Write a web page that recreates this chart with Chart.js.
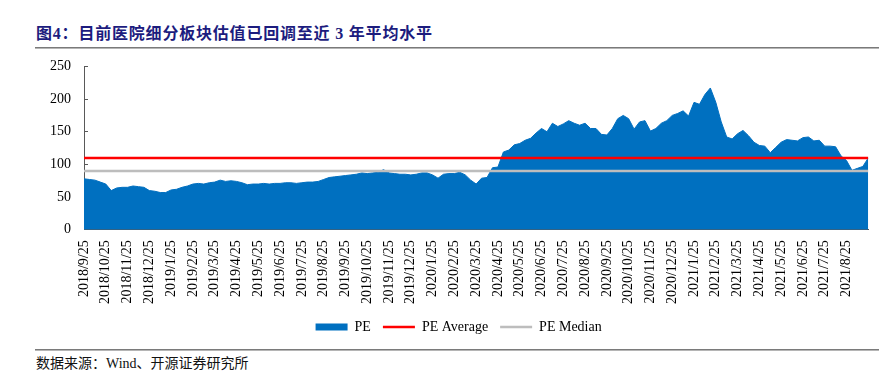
<!DOCTYPE html>
<html><head><meta charset="utf-8">
<script src="https://cdn.jsdelivr.net/npm/chart.js@4"></script>
<style>
html,body{margin:0;padding:0;background:#fff;}
body{width:885px;height:381px;position:relative;overflow:hidden;}
#title{position:absolute;left:36px;top:24px;font:bold 16px "Liberation Serif","Noto Sans CJK SC",serif;letter-spacing:0.8px;color:#1c1c7e;line-height:20px;white-space:nowrap;}
.rule{position:absolute;left:35px;width:844px;height:2px;background:linear-gradient(#7a7a7a 50%,#b5b5b5 50%);}
#src{position:absolute;left:36px;top:355px;font:14px "Liberation Serif","Noto Sans CJK SC",serif;color:#111;line-height:18px;white-space:nowrap;}
#wrap{position:absolute;left:0;top:41.3px;width:885px;height:303px;}
canvas{display:block;}
</style></head>
<body>
<div id="title">图4：目前医院细分板块估值已回调至近 3 年平均水平</div>
<div class="rule" style="top:47px"></div>
<div id="wrap"><canvas id="c" width="885" height="303"></canvas></div>
<div class="rule" style="top:349px"></div>
<div id="src">数据来源：Wind、开源证券研究所</div>
<script>
const tickLabels = [
  '2018/9/25','2018/10/25','2018/11/25','2018/12/25',
  '2019/1/25','2019/2/25','2019/3/25','2019/4/25','2019/5/25','2019/6/25',
  '2019/7/25','2019/8/25','2019/9/25','2019/10/25','2019/11/25','2019/12/25',
  '2020/1/25','2020/2/25','2020/3/25','2020/4/25','2020/5/25','2020/6/25',
  '2020/7/25','2020/8/25','2020/9/25','2020/10/25','2020/11/25','2020/12/25',
  '2021/1/25','2021/2/25','2021/3/25','2021/4/25','2021/5/25','2021/6/25',
  '2021/7/25','2021/8/25'
];
// PE sampled every quarter month starting 2018/9/25
const pe = [
  78,77,76,73,70,60,64,65,65,67,66,65,60,59,57,57,61,62,65,67,70,71,70,72,73,76,74,75,74,72,69,70,70,71,70,71,71,
  72,72,71,72,73,73,74,77,80,81,82,83,84,85,87,86,87,88,92,87,86,85,85,84,85,87,87,84,79,85,86,86,88,84,76,70,
  79,80,95,96,119,122,130,132,137,140,148,155,150,163,158,162,167,163,160,163,155,155,
  146,145,155,170,175,170,154,165,167,151,155,163,167,175,178,182,174,195,192,207,217,195,165,142,139,147,152,144,
  134,129,128,118,126,134,138,137,136,141,142,136,137,128,128,127,113,106,91,94,97,110
];
const peAverage = 110;
const peMedian = 90;
const seriesNames = ['PE', 'PE Average', 'PE Median'];
const seriesColors = ['#0070C0', '#FF0000', '#BDBDBD'];

const stepMonths = 0.25;
const xMax = (pe.length - 1) * stepMonths;
const pePoints = pe.map((v, i) => ({x: i * stepMonths, y: v}));
const avgPoints = [{x: 0, y: peAverage}, {x: xMax, y: peAverage}];
const medPoints = [{x: 0, y: peMedian}, {x: xMax, y: peMedian}];

const FONT = '"Liberation Serif", "Times New Roman", serif';
Chart.defaults.font.family = FONT;

new Chart(document.getElementById('c'), {
  type: 'line',
  data: {
    datasets: [
      {label: seriesNames[0], data: pePoints, fill: 'origin', backgroundColor: seriesColors[0],
       borderColor: seriesColors[0], borderWidth: 1, pointRadius: 0, tension: 0, order: 3},
      {label: seriesNames[1], data: avgPoints, fill: false, borderColor: seriesColors[1],
       borderWidth: 2.5, pointRadius: 0, order: 1},
      {label: seriesNames[2], data: medPoints, fill: false, borderColor: seriesColors[2],
       borderWidth: 2.5, pointRadius: 0, order: 2}
    ]
  },
  options: {
    responsive: false,
    animation: false,
    events: [],
    layout: {padding: {left: 49, right: 16.7, top: 5, bottom: 0}},
    scales: {
      x: {
        type: 'linear', min: 0, max: xMax,
        afterBuildTicks: axis => { axis.ticks = tickLabels.map((_, i) => ({value: i})); },
        afterFit: s => { s.height = 78.2; },
        ticks: {autoSkip: false, minRotation: 90, maxRotation: 90, padding: 14.5,
          color: '#000', font: {size: 14, family: FONT},
          callback: (v, i) => tickLabels[i]},
        grid: {drawOnChartArea: false, tickLength: -4, color: '#595959'},
        border: {color: '#595959', width: 1}
      },
      y: {
        min: 0, max: 250,
        afterFit: s => { s.width = 35; },
        ticks: {stepSize: 50, padding: 17, color: '#000', font: {size: 14, family: FONT}},
        grid: {drawOnChartArea: false, tickLength: -4, color: '#595959'},
        border: {color: '#595959', width: 1}
      }
    },
    plugins: {
      tooltip: {enabled: false},
      title: {display: false},
      legend: {
        position: 'bottom',
        labels: {
          usePointStyle: true, pointStyleWidth: 32, boxWidth: 32, boxHeight: 7, padding: 12,
          color: '#000', font: {size: 14, family: FONT},
          generateLabels: chart => chart.data.datasets.map((ds, i) => ({
            text: ds.label,
            datasetIndex: i,
            hidden: false,
            pointStyle: i === 0 ? 'rect' : 'line',
            fillStyle: seriesColors[i],
            strokeStyle: seriesColors[i],
            lineWidth: i === 0 ? 0 : 2.5,
            fontColor: '#000'
          }))
        }
      }
    }
  }
});
</script>
</body></html>
